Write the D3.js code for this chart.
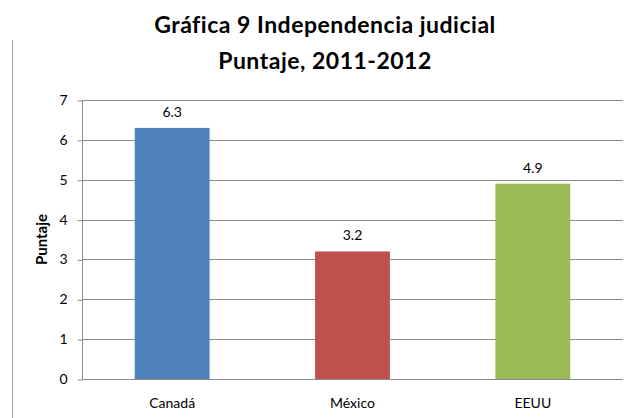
<!DOCTYPE html>
<html>
<head>
<meta charset="utf-8">
<script src="https://cdn.jsdelivr.net/npm/d3@7"></script>
<style>
  html, body { margin: 0; padding: 0; background: #fff; }
  svg { display: block; }
  text { font-family: Lato, "Open Sans", "DejaVu Sans", sans-serif; fill: #000; }
</style>
</head>
<body>
<div id="chart"></div>
<script>
// Judicial independence score by country, 2011-2012
const countries = ["Canadá", "México", "EEUU"];
const scores = [6.3, 3.2, 4.9];
const barColors = ["#4F81BD", "#C0504D", "#9BBB59"];
const yTicks = [0, 1, 2, 3, 4, 5, 6, 7];
const titleLines = ["Gráfica 9 Independencia judicial", "Puntaje, 2011-2012"];
const yAxisTitle = "Puntaje";

const width = 632, height = 418;
const margin = { top: 100, right: 9, bottom: 39, left: 82 };

const svg = d3.select("#chart").append("svg")
  .attr("width", width)
  .attr("height", height);

// frame edge on the left
svg.append("line")
  .attr("x1", 12.5).attr("x2", 12.5)
  .attr("y1", 40).attr("y2", height)
  .attr("stroke", "#a6a6a6").attr("stroke-width", 1);

const x = d3.scaleBand()
  .domain(countries)
  .range([margin.left, width - margin.right])
  .padding(0);

const y = d3.scaleLinear()
  .domain([0, 7])
  .range([height - margin.bottom, margin.top]);

// horizontal gridlines
svg.append("g")
  .selectAll("line")
  .data(yTicks)
  .join("line")
  .attr("x1", margin.left)
  .attr("x2", width - margin.right)
  .attr("y1", d => Math.round(y(d)) + 0.5)
  .attr("y2", d => Math.round(y(d)) + 0.5)
  .attr("stroke", "#8c8c8c")
  .attr("stroke-width", 1);

// y axis
const yAxis = svg.append("g")
  .attr("transform", `translate(${margin.left + 0.5},0)`)
  .call(d3.axisLeft(y).tickValues(yTicks).tickSize(5).tickPadding(10).tickFormat(d3.format("d")));
yAxis.select(".domain").attr("stroke", "#8c8c8c").attr("d", `M0,${y(7)}V${y(0)}`);
yAxis.selectAll(".tick line").attr("stroke", "#8c8c8c")
  .attr("transform", "translate(0,0.5)");
yAxis.selectAll(".tick text")
  .style("font-family", "Lato, 'Open Sans', sans-serif")
  .style("font-size", "14px")
  .attr("fill", "#000");

// bars
const barFrac = 0.415;
svg.append("g")
  .selectAll("rect")
  .data(countries)
  .join("rect")
  .attr("x", d => x(d) + x.bandwidth() * (1 - barFrac) / 2)
  .attr("width", x.bandwidth() * barFrac)
  .attr("y", (d, i) => y(scores[i]))
  .attr("height", (d, i) => y(0) - y(scores[i]))
  .attr("fill", (d, i) => barColors[i]);

// value labels
svg.append("g")
  .selectAll("text")
  .data(countries)
  .join("text")
  .attr("x", d => x(d) + x.bandwidth() / 2)
  .attr("y", (d, i) => y(scores[i]) - 11)
  .attr("text-anchor", "middle")
  .style("font-size", "14px")
  .text((d, i) => d3.format(".1f")(scores[i]));

// category labels
svg.append("g")
  .selectAll("text")
  .data(countries)
  .join("text")
  .attr("x", d => x(d) + x.bandwidth() / 2)
  .attr("y", y(0) + 29)
  .attr("text-anchor", "middle")
  .style("font-size", "14px")
  .text(d => d);

// y axis title
svg.append("text")
  .attr("transform", `translate(47,${(y(0) + y(7)) / 2}) rotate(-90)`)
  .attr("text-anchor", "middle")
  .style("font-size", "15px")
  .style("font-weight", "bold")
  .text(yAxisTitle);

// chart title
svg.append("g")
  .selectAll("text")
  .data(titleLines)
  .join("text")
  .attr("x", 325)
  .attr("y", (d, i) => 33 + i * 36)
  .attr("text-anchor", "middle")
  .style("font-size", "23px")
  .style("font-weight", "bold")
  .style("letter-spacing", "0.5px")
  .text(d => d);
</script>
</body>
</html>
